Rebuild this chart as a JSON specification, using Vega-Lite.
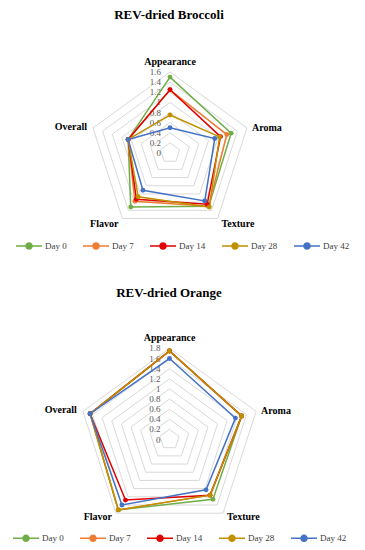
{
  "$schema": "https://vega.github.io/schema/vega-lite/v6.json",
  "padding": {"top": 9, "left": 0, "right": 0, "bottom": 0},
  "background": "white",
  "config": {
    "view": {"stroke": null},
    "font": "Liberation Serif",
    "title": {"font": "Liberation Serif", "fontSize": 13, "fontWeight": "bold", "color": "black", "anchor": "middle", "offset": 4, "dx": -13.5},
    "legend": {"gridAlign": "each"}
  },
  "spacing": 24.5,
  "resolve": {"scale": {"color": "independent"}, "legend": {"color": "independent"}},
  "datasets": {
    "axes": [
      {"attr": "Appearance", "i": 0},
      {"attr": "Aroma", "i": 1},
      {"attr": "Texture", "i": 2},
      {"attr": "Flavor", "i": 3},
      {"attr": "Overall", "i": 4}
    ],
    "labels": [
      {"chart": "Broccoli", "attr": "Appearance", "i": 0, "r": 1.6},
      {"chart": "Broccoli", "attr": "Aroma", "i": 1, "r": 1.6},
      {"chart": "Broccoli", "attr": "Texture", "i": 2, "r": 1.6},
      {"chart": "Broccoli", "attr": "Flavor", "i": 3, "r": 1.6},
      {"chart": "Broccoli", "attr": "Overall", "i": 4, "r": 1.6},
      {"chart": "Orange", "attr": "Appearance", "i": 0, "r": 1.8},
      {"chart": "Orange", "attr": "Aroma", "i": 1, "r": 1.8},
      {"chart": "Orange", "attr": "Texture", "i": 2, "r": 1.8},
      {"chart": "Orange", "attr": "Flavor", "i": 3, "r": 1.8},
      {"chart": "Orange", "attr": "Overall", "i": 4, "r": 1.8}
    ],
    "levels": [
      {"chart": "Broccoli", "level": 0, "i": [0, 1, 2, 3, 4]},
      {"chart": "Broccoli", "level": 0.2, "i": [0, 1, 2, 3, 4]},
      {"chart": "Broccoli", "level": 0.4, "i": [0, 1, 2, 3, 4]},
      {"chart": "Broccoli", "level": 0.6, "i": [0, 1, 2, 3, 4]},
      {"chart": "Broccoli", "level": 0.8, "i": [0, 1, 2, 3, 4]},
      {"chart": "Broccoli", "level": 1.0, "i": [0, 1, 2, 3, 4]},
      {"chart": "Broccoli", "level": 1.2, "i": [0, 1, 2, 3, 4]},
      {"chart": "Broccoli", "level": 1.4, "i": [0, 1, 2, 3, 4]},
      {"chart": "Broccoli", "level": 1.6, "i": [0, 1, 2, 3, 4]},
      {"chart": "Orange", "level": 0, "i": [0, 1, 2, 3, 4]},
      {"chart": "Orange", "level": 0.2, "i": [0, 1, 2, 3, 4]},
      {"chart": "Orange", "level": 0.4, "i": [0, 1, 2, 3, 4]},
      {"chart": "Orange", "level": 0.6, "i": [0, 1, 2, 3, 4]},
      {"chart": "Orange", "level": 0.8, "i": [0, 1, 2, 3, 4]},
      {"chart": "Orange", "level": 1.0, "i": [0, 1, 2, 3, 4]},
      {"chart": "Orange", "level": 1.2, "i": [0, 1, 2, 3, 4]},
      {"chart": "Orange", "level": 1.4, "i": [0, 1, 2, 3, 4]},
      {"chart": "Orange", "level": 1.6, "i": [0, 1, 2, 3, 4]},
      {"chart": "Orange", "level": 1.8, "i": [0, 1, 2, 3, 4]}
    ],
    "scores": [
      {"chart": "Broccoli", "day": "Day 0", "attr": "Appearance", "value": 1.5},
      {"chart": "Broccoli", "day": "Day 0", "attr": "Aroma", "value": 1.27},
      {"chart": "Broccoli", "day": "Day 0", "attr": "Texture", "value": 1.3},
      {"chart": "Broccoli", "day": "Day 0", "attr": "Flavor", "value": 1.32},
      {"chart": "Broccoli", "day": "Day 0", "attr": "Overall", "value": 0.87},
      {"chart": "Broccoli", "day": "Day 7", "attr": "Appearance", "value": 1.25},
      {"chart": "Broccoli", "day": "Day 7", "attr": "Aroma", "value": 1.18},
      {"chart": "Broccoli", "day": "Day 7", "attr": "Texture", "value": 1.3},
      {"chart": "Broccoli", "day": "Day 7", "attr": "Flavor", "value": 1.18},
      {"chart": "Broccoli", "day": "Day 7", "attr": "Overall", "value": 0.87},
      {"chart": "Broccoli", "day": "Day 14", "attr": "Appearance", "value": 1.25},
      {"chart": "Broccoli", "day": "Day 14", "attr": "Aroma", "value": 1.05},
      {"chart": "Broccoli", "day": "Day 14", "attr": "Texture", "value": 1.25},
      {"chart": "Broccoli", "day": "Day 14", "attr": "Flavor", "value": 1.13},
      {"chart": "Broccoli", "day": "Day 14", "attr": "Overall", "value": 0.87},
      {"chart": "Broccoli", "day": "Day 28", "attr": "Appearance", "value": 0.75},
      {"chart": "Broccoli", "day": "Day 28", "attr": "Aroma", "value": 1.03},
      {"chart": "Broccoli", "day": "Day 28", "attr": "Texture", "value": 1.32},
      {"chart": "Broccoli", "day": "Day 28", "attr": "Flavor", "value": 1.07},
      {"chart": "Broccoli", "day": "Day 28", "attr": "Overall", "value": 0.87},
      {"chart": "Broccoli", "day": "Day 42", "attr": "Appearance", "value": 0.5},
      {"chart": "Broccoli", "day": "Day 42", "attr": "Aroma", "value": 0.93},
      {"chart": "Broccoli", "day": "Day 42", "attr": "Texture", "value": 1.17},
      {"chart": "Broccoli", "day": "Day 42", "attr": "Flavor", "value": 0.91},
      {"chart": "Broccoli", "day": "Day 42", "attr": "Overall", "value": 0.87},
      {"chart": "Orange", "day": "Day 0", "attr": "Appearance", "value": 1.75},
      {"chart": "Orange", "day": "Day 0", "attr": "Aroma", "value": 1.5},
      {"chart": "Orange", "day": "Day 0", "attr": "Texture", "value": 1.46},
      {"chart": "Orange", "day": "Day 0", "attr": "Flavor", "value": 1.72},
      {"chart": "Orange", "day": "Day 0", "attr": "Overall", "value": 1.65},
      {"chart": "Orange", "day": "Day 7", "attr": "Appearance", "value": 1.75},
      {"chart": "Orange", "day": "Day 7", "attr": "Aroma", "value": 1.5},
      {"chart": "Orange", "day": "Day 7", "attr": "Texture", "value": 1.36},
      {"chart": "Orange", "day": "Day 7", "attr": "Flavor", "value": 1.72},
      {"chart": "Orange", "day": "Day 7", "attr": "Overall", "value": 1.65},
      {"chart": "Orange", "day": "Day 14", "attr": "Appearance", "value": 1.75},
      {"chart": "Orange", "day": "Day 14", "attr": "Aroma", "value": 1.5},
      {"chart": "Orange", "day": "Day 14", "attr": "Texture", "value": 1.36},
      {"chart": "Orange", "day": "Day 14", "attr": "Flavor", "value": 1.48},
      {"chart": "Orange", "day": "Day 14", "attr": "Overall", "value": 1.65},
      {"chart": "Orange", "day": "Day 28", "attr": "Appearance", "value": 1.75},
      {"chart": "Orange", "day": "Day 28", "attr": "Aroma", "value": 1.5},
      {"chart": "Orange", "day": "Day 28", "attr": "Texture", "value": 1.36},
      {"chart": "Orange", "day": "Day 28", "attr": "Flavor", "value": 1.72},
      {"chart": "Orange", "day": "Day 28", "attr": "Overall", "value": 1.65},
      {"chart": "Orange", "day": "Day 42", "attr": "Appearance", "value": 1.6},
      {"chart": "Orange", "day": "Day 42", "attr": "Aroma", "value": 1.37},
      {"chart": "Orange", "day": "Day 42", "attr": "Texture", "value": 1.23},
      {"chart": "Orange", "day": "Day 42", "attr": "Flavor", "value": 1.6},
      {"chart": "Orange", "day": "Day 42", "attr": "Overall", "value": 1.65}
    ]
  },
  "vconcat": [
    {
      "title": {"text": "REV-dried Broccoli"},
      "width": 365,
      "height": 236,
      "encoding": {
        "x": {"field": "x", "type": "quantitative", "scale": {"domain": [-3.36, 3.854], "nice": false, "zero": false}, "axis": null},
        "y": {"field": "y", "type": "quantitative", "scale": {"domain": [-2.154, 2.51], "nice": false, "zero": false}, "axis": null}
      },
      "layer": [
        {
          "data": {"name": "levels"},
          "transform": [
            {"filter": "datum.chart === 'Broccoli' && datum.level > 0"},
            {"flatten": ["i"]},
            {"calculate": "datum.level * sin(datum.i * 2 * PI / 5)", "as": "x"},
            {"calculate": "datum.level * cos(datum.i * 2 * PI / 5)", "as": "y"}
          ],
          "mark": {"type": "line", "interpolate": "linear-closed", "color": "#d9d9d9", "strokeWidth": 1},
          "encoding": {"detail": {"field": "level", "type": "nominal"}, "order": {"field": "i", "type": "quantitative"}}
        },
        {
          "data": {"name": "levels"},
          "transform": [
            {"filter": "datum.chart === 'Broccoli'"},
            {"calculate": "0", "as": "x"},
            {"calculate": "datum.level", "as": "y"}
          ],
          "mark": {"type": "text", "align": "right", "baseline": "middle", "dx": -9, "fontSize": 9, "color": "#595959", "font": "Liberation Serif"},
          "encoding": {"text": {"field": "level", "type": "quantitative", "format": ".1~f"}}
        },
        {
          "data": {"name": "scores"},
          "transform": [
            {"filter": "datum.chart === 'Broccoli'"},
            {"lookup": "attr", "from": {"data": {"name": "axes"}, "key": "attr", "fields": ["i"]}},
            {"calculate": "datum.value * sin(datum.i * 2 * PI / 5)", "as": "x"},
            {"calculate": "datum.value * cos(datum.i * 2 * PI / 5)", "as": "y"}
          ],
          "mark": {"type": "line", "interpolate": "linear-closed", "strokeWidth": 1.5},
          "encoding": {
            "color": {"field": "day", "type": "nominal",
              "scale": {"domain": ["Day 0", "Day 7", "Day 14", "Day 28", "Day 42"], "range": ["#70AD47", "#ED7D31", "#E00000", "#BF9000", "#4472C4"]},
              "legend": {"orient": "none", "legendX": 15, "legendY": 206, "direction": "horizontal", "title": null, "padding": 0, "gridAlign": "each",
                "symbolType": "M-1,0H1M-0.23,0A0.23,0.23 0 1,1 0.23,0A0.23,0.23 0 1,1 -0.23,0Z", "symbolSize": 676, "symbolStrokeWidth": 1.5,
                "labelFont": "Liberation Serif", "labelFontSize": 9, "labelColor": "#404040", "labelOffset": 2, "columnPadding": 13}},
            "order": {"field": "i", "type": "quantitative"}
          }
        },
        {
          "data": {"name": "scores"},
          "transform": [
            {"filter": "datum.chart === 'Broccoli'"},
            {"lookup": "attr", "from": {"data": {"name": "axes"}, "key": "attr", "fields": ["i"]}},
            {"calculate": "datum.value * sin(datum.i * 2 * PI / 5)", "as": "x"},
            {"calculate": "datum.value * cos(datum.i * 2 * PI / 5)", "as": "y"}
          ],
          "mark": {"type": "point", "filled": true, "size": 24, "opacity": 1, "shape": "circle"},
          "encoding": {
            "color": {"field": "day", "type": "nominal",
              "scale": {"domain": ["Day 0", "Day 7", "Day 14", "Day 28", "Day 42"], "range": ["#70AD47", "#ED7D31", "#E00000", "#BF9000", "#4472C4"]},
              "legend": {"orient": "none", "legendX": 15, "legendY": 206, "direction": "horizontal", "title": null, "padding": 0, "gridAlign": "each",
                "symbolType": "M-1,0H1M-0.23,0A0.23,0.23 0 1,1 0.23,0A0.23,0.23 0 1,1 -0.23,0Z", "symbolSize": 676, "symbolStrokeWidth": 1.5,
                "labelFont": "Liberation Serif", "labelFontSize": 9, "labelColor": "#404040", "labelOffset": 2, "columnPadding": 13}}
          }
        },
        {
          "data": {"name": "labels"},
          "transform": [
            {"filter": "datum.chart === 'Broccoli' && datum.attr === 'Appearance'"},
            {"calculate": "datum.r * sin(datum.i * 2 * PI / 5)", "as": "x"},
            {"calculate": "datum.r * cos(datum.i * 2 * PI / 5)", "as": "y"}
          ],
          "mark": {"type": "text", "align": "center", "baseline": "middle", "dy": -10, "fontSize": 10, "fontWeight": "bold", "color": "black", "font": "Liberation Serif"},
          "encoding": {"text": {"field": "attr"}}
        },
        {
          "data": {"name": "labels"},
          "transform": [
            {"filter": "datum.chart === 'Broccoli' && datum.attr === 'Aroma'"},
            {"calculate": "datum.r * sin(datum.i * 2 * PI / 5)", "as": "x"},
            {"calculate": "datum.r * cos(datum.i * 2 * PI / 5)", "as": "y"}
          ],
          "mark": {"type": "text", "align": "left", "baseline": "middle", "dx": 5, "fontSize": 10, "fontWeight": "bold", "color": "black", "font": "Liberation Serif"},
          "encoding": {"text": {"field": "attr"}}
        },
        {
          "data": {"name": "labels"},
          "transform": [
            {"filter": "datum.chart === 'Broccoli' && datum.attr === 'Texture'"},
            {"calculate": "datum.r * sin(datum.i * 2 * PI / 5)", "as": "x"},
            {"calculate": "datum.r * cos(datum.i * 2 * PI / 5)", "as": "y"}
          ],
          "mark": {"type": "text", "align": "left", "baseline": "middle", "dx": 4, "dy": 5, "fontSize": 10, "fontWeight": "bold", "color": "black", "font": "Liberation Serif"},
          "encoding": {"text": {"field": "attr"}}
        },
        {
          "data": {"name": "labels"},
          "transform": [
            {"filter": "datum.chart === 'Broccoli' && datum.attr === 'Flavor'"},
            {"calculate": "datum.r * sin(datum.i * 2 * PI / 5)", "as": "x"},
            {"calculate": "datum.r * cos(datum.i * 2 * PI / 5)", "as": "y"}
          ],
          "mark": {"type": "text", "align": "right", "baseline": "middle", "dx": -4, "dy": 5, "fontSize": 10, "fontWeight": "bold", "color": "black", "font": "Liberation Serif"},
          "encoding": {"text": {"field": "attr"}}
        },
        {
          "data": {"name": "labels"},
          "transform": [
            {"filter": "datum.chart === 'Broccoli' && datum.attr === 'Overall'"},
            {"calculate": "datum.r * sin(datum.i * 2 * PI / 5)", "as": "x"},
            {"calculate": "datum.r * cos(datum.i * 2 * PI / 5)", "as": "y"}
          ],
          "mark": {"type": "text", "align": "right", "baseline": "middle", "dx": -6, "dy": -1, "fontSize": 10, "fontWeight": "bold", "color": "black", "font": "Liberation Serif"},
          "encoding": {"text": {"field": "attr"}}
        }
      ]
    },
    {
      "title": {"text": "REV-dried Orange"},
      "width": 365,
      "height": 246.5,
      "encoding": {
        "x": {"field": "x", "type": "quantitative", "scale": {"domain": [-3.35, 3.864], "nice": false, "zero": false}, "axis": null},
        "y": {"field": "y", "type": "quantitative", "scale": {"domain": [-2.184, 2.688], "nice": false, "zero": false}, "axis": null}
      },
      "layer": [
        {
          "data": {"name": "levels"},
          "transform": [
            {"filter": "datum.chart === 'Orange' && datum.level > 0"},
            {"flatten": ["i"]},
            {"calculate": "datum.level * sin(datum.i * 2 * PI / 5)", "as": "x"},
            {"calculate": "datum.level * cos(datum.i * 2 * PI / 5)", "as": "y"}
          ],
          "mark": {"type": "line", "interpolate": "linear-closed", "color": "#d9d9d9", "strokeWidth": 1},
          "encoding": {"detail": {"field": "level", "type": "nominal"}, "order": {"field": "i", "type": "quantitative"}}
        },
        {
          "data": {"name": "levels"},
          "transform": [
            {"filter": "datum.chart === 'Orange'"},
            {"calculate": "0", "as": "x"},
            {"calculate": "datum.level", "as": "y"}
          ],
          "mark": {"type": "text", "align": "right", "baseline": "middle", "dx": -9, "fontSize": 9, "color": "#595959", "font": "Liberation Serif"},
          "encoding": {"text": {"field": "level", "type": "quantitative", "format": ".1~f"}}
        },
        {
          "data": {"name": "scores"},
          "transform": [
            {"filter": "datum.chart === 'Orange'"},
            {"lookup": "attr", "from": {"data": {"name": "axes"}, "key": "attr", "fields": ["i"]}},
            {"calculate": "datum.value * sin(datum.i * 2 * PI / 5)", "as": "x"},
            {"calculate": "datum.value * cos(datum.i * 2 * PI / 5)", "as": "y"}
          ],
          "mark": {"type": "line", "interpolate": "linear-closed", "strokeWidth": 1.5},
          "encoding": {
            "color": {"field": "day", "type": "nominal",
              "scale": {"domain": ["Day 0", "Day 7", "Day 14", "Day 28", "Day 42"], "range": ["#70AD47", "#ED7D31", "#E00000", "#BF9000", "#4472C4"]},
              "legend": {"orient": "none", "legendX": 12, "legendY": 220.8, "direction": "horizontal", "title": null, "padding": 0, "gridAlign": "each",
                "symbolType": "M-1,0H1M-0.23,0A0.23,0.23 0 1,1 0.23,0A0.23,0.23 0 1,1 -0.23,0Z", "symbolSize": 676, "symbolStrokeWidth": 1.5,
                "labelFont": "Liberation Serif", "labelFontSize": 9, "labelColor": "#404040", "labelOffset": 2, "columnPadding": 13}},
            "order": {"field": "i", "type": "quantitative"}
          }
        },
        {
          "data": {"name": "scores"},
          "transform": [
            {"filter": "datum.chart === 'Orange'"},
            {"lookup": "attr", "from": {"data": {"name": "axes"}, "key": "attr", "fields": ["i"]}},
            {"calculate": "datum.value * sin(datum.i * 2 * PI / 5)", "as": "x"},
            {"calculate": "datum.value * cos(datum.i * 2 * PI / 5)", "as": "y"}
          ],
          "mark": {"type": "point", "filled": true, "size": 24, "opacity": 1, "shape": "circle"},
          "encoding": {
            "color": {"field": "day", "type": "nominal",
              "scale": {"domain": ["Day 0", "Day 7", "Day 14", "Day 28", "Day 42"], "range": ["#70AD47", "#ED7D31", "#E00000", "#BF9000", "#4472C4"]},
              "legend": {"orient": "none", "legendX": 12, "legendY": 220.8, "direction": "horizontal", "title": null, "padding": 0, "gridAlign": "each",
                "symbolType": "M-1,0H1M-0.23,0A0.23,0.23 0 1,1 0.23,0A0.23,0.23 0 1,1 -0.23,0Z", "symbolSize": 676, "symbolStrokeWidth": 1.5,
                "labelFont": "Liberation Serif", "labelFontSize": 9, "labelColor": "#404040", "labelOffset": 2, "columnPadding": 13}}
          }
        },
        {
          "data": {"name": "labels"},
          "transform": [
            {"filter": "datum.chart === 'Orange' && datum.attr === 'Appearance'"},
            {"calculate": "datum.r * sin(datum.i * 2 * PI / 5)", "as": "x"},
            {"calculate": "datum.r * cos(datum.i * 2 * PI / 5)", "as": "y"}
          ],
          "mark": {"type": "text", "align": "center", "baseline": "middle", "dy": -10, "fontSize": 10, "fontWeight": "bold", "color": "black", "font": "Liberation Serif"},
          "encoding": {"text": {"field": "attr"}}
        },
        {
          "data": {"name": "labels"},
          "transform": [
            {"filter": "datum.chart === 'Orange' && datum.attr === 'Aroma'"},
            {"calculate": "datum.r * sin(datum.i * 2 * PI / 5)", "as": "x"},
            {"calculate": "datum.r * cos(datum.i * 2 * PI / 5)", "as": "y"}
          ],
          "mark": {"type": "text", "align": "left", "baseline": "middle", "dx": 5, "fontSize": 10, "fontWeight": "bold", "color": "black", "font": "Liberation Serif"},
          "encoding": {"text": {"field": "attr"}}
        },
        {
          "data": {"name": "labels"},
          "transform": [
            {"filter": "datum.chart === 'Orange' && datum.attr === 'Texture'"},
            {"calculate": "datum.r * sin(datum.i * 2 * PI / 5)", "as": "x"},
            {"calculate": "datum.r * cos(datum.i * 2 * PI / 5)", "as": "y"}
          ],
          "mark": {"type": "text", "align": "left", "baseline": "middle", "dx": 4, "dy": 4, "fontSize": 10, "fontWeight": "bold", "color": "black", "font": "Liberation Serif"},
          "encoding": {"text": {"field": "attr"}}
        },
        {
          "data": {"name": "labels"},
          "transform": [
            {"filter": "datum.chart === 'Orange' && datum.attr === 'Flavor'"},
            {"calculate": "datum.r * sin(datum.i * 2 * PI / 5)", "as": "x"},
            {"calculate": "datum.r * cos(datum.i * 2 * PI / 5)", "as": "y"}
          ],
          "mark": {"type": "text", "align": "right", "baseline": "middle", "dx": -4, "dy": 4, "fontSize": 10, "fontWeight": "bold", "color": "black", "font": "Liberation Serif"},
          "encoding": {"text": {"field": "attr"}}
        },
        {
          "data": {"name": "labels"},
          "transform": [
            {"filter": "datum.chart === 'Orange' && datum.attr === 'Overall'"},
            {"calculate": "datum.r * sin(datum.i * 2 * PI / 5)", "as": "x"},
            {"calculate": "datum.r * cos(datum.i * 2 * PI / 5)", "as": "y"}
          ],
          "mark": {"type": "text", "align": "right", "baseline": "middle", "dx": -6, "dy": -1, "fontSize": 10, "fontWeight": "bold", "color": "black", "font": "Liberation Serif"},
          "encoding": {"text": {"field": "attr"}}
        }
      ]
    }
  ]
}
